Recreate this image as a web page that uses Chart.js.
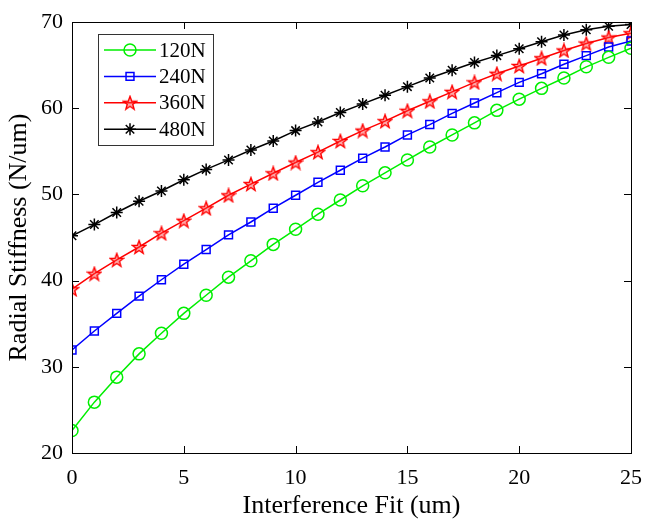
<!DOCTYPE html>
<html>
<head>
<meta charset="utf-8">
<script src="https://cdn.jsdelivr.net/npm/chart.js@4"></script>
<style>
  html, body { margin: 0; padding: 0; background: #fff; }
  #wrap { width: 646px; height: 520px; }
</style>
</head>
<body>
<div id="wrap"><canvas id="chart" width="646" height="520"></canvas></div>
<script>
// interference fit (um)
const fitValues = [0, 1, 2, 3, 4, 5, 6, 7, 8, 9, 10, 11, 12, 13, 14, 15, 16, 17, 18, 19, 20, 21, 22, 23, 24, 25];

// radial stiffness (N/um) per preload
const stiff120 = [22.6, 25.9, 28.8, 31.5, 33.9, 36.2, 38.3, 40.4, 42.3, 44.2, 45.95, 47.7, 49.35, 51.0, 52.5, 54.0, 55.5, 56.9, 58.3, 59.75, 61.05, 62.3, 63.5, 64.8, 65.9, 66.95];
const stiff240 = [31.95, 34.15, 36.2, 38.2, 40.1, 41.9, 43.6, 45.3, 46.8, 48.4, 49.9, 51.4, 52.8, 54.2, 55.5, 56.9, 58.1, 59.4, 60.6, 61.8, 63.0, 64.0, 65.1, 66.1, 67.1, 67.8];
const stiff360 = [39.0, 40.8, 42.4, 43.9, 45.5, 46.95, 48.4, 49.9, 51.2, 52.45, 53.7, 54.9, 56.2, 57.4, 58.5, 59.7, 60.8, 61.9, 63.0, 64.0, 64.9, 65.8, 66.7, 67.5, 68.2, 68.7];
const stiff480 = [45.2, 46.5, 47.9, 49.2, 50.4, 51.7, 52.9, 54.0, 55.15, 56.2, 57.4, 58.4, 59.5, 60.5, 61.5, 62.5, 63.5, 64.4, 65.3, 66.1, 66.9, 67.7, 68.5, 69.1, 69.5, 69.7];

const seriesNames = ['120N', '240N', '360N', '480N'];
const xTicks = [0, 5, 10, 15, 20, 25];
const yTicks = [20, 30, 40, 50, 60, 70];

const FONT = '"Liberation Serif", "Times New Roman", serif';

// open pentagram marker (matlab 'p')
function makePentagram(color) {
    const c = document.createElement('canvas');
    c.width = 16; c.height = 16;
    const g = c.getContext('2d');
    g.beginPath();
    for (let i = 0; i < 10; i++) {
        const r = i % 2 === 0 ? 7 : 2.9;
        const a = -Math.PI / 2 + i * Math.PI / 5;
        const px = 8 + r * Math.cos(a), py = 8.6 + r * Math.sin(a);
        if (i === 0) g.moveTo(px, py); else g.lineTo(px, py);
    }
    g.closePath();
    g.fillStyle = 'rgba(255,60,60,0.45)';
    g.fill();
    g.strokeStyle = color;
    g.lineWidth = 1.4;
    g.stroke();
    return c;
}
const starMarker = makePentagram('#ff0000');

function pts(ys) {
    return fitValues.map((x, i) => ({ x: x, y: ys[i] }));
}

const datasets = [
    { label: seriesNames[0], data: pts(stiff120), borderColor: '#00ee00', pointStyle: 'circle', pointRadius: 6 },
    { label: seriesNames[1], data: pts(stiff240), borderColor: '#0000ff', pointStyle: 'rect', pointRadius: 5.6 },
    { label: seriesNames[2], data: pts(stiff360), borderColor: '#ff0000', pointStyle: starMarker, pointRadius: 7 },
    { label: seriesNames[3], data: pts(stiff480), borderColor: '#000000', pointStyle: 'star', pointRadius: 6 },
].map(d => Object.assign(d, {
    borderWidth: 1.5,
    pointBorderColor: d.borderColor,
    pointBackgroundColor: 'rgba(0,0,0,0)',
    pointBorderWidth: 1.5,
    tension: 0,
    fill: false,
}));

// box + inward ticks on all four sides, like matlab "box on"
const boxPlugin = {
    id: 'boxTicks',
    afterDatasetsDraw(chart) {
        const { ctx, chartArea: a, scales } = chart;
        const len = 7;
        ctx.save();
        ctx.strokeStyle = '#000';
        ctx.lineWidth = 1;
        ctx.beginPath();
        xTicks.forEach(v => {
            const px = Math.round(scales.x.getPixelForValue(v)) + 0.5;
            ctx.moveTo(px, a.bottom); ctx.lineTo(px, a.bottom - len);
            ctx.moveTo(px, a.top); ctx.lineTo(px, a.top + len);
        });
        yTicks.forEach(v => {
            const py = Math.round(scales.y.getPixelForValue(v)) + 0.5;
            ctx.moveTo(a.left, py); ctx.lineTo(a.left + len, py);
            ctx.moveTo(a.right, py); ctx.lineTo(a.right - len, py);
        });
        ctx.stroke();
        ctx.strokeRect(Math.round(a.left) + 0.5, Math.round(a.top) + 0.5,
            Math.round(a.right - a.left), Math.round(a.bottom - a.top));
        ctx.restore();
    }
};

// legend box in the upper left corner
const legendPlugin = {
    id: 'insetLegend',
    afterDraw(chart) {
        const ctx = chart.ctx;
        const bx = 98.5, by = 34.5, bw = 115, bh = 111;
        ctx.save();
        ctx.fillStyle = '#fff';
        ctx.fillRect(bx, by, bw, bh);
        ctx.strokeStyle = '#333';
        ctx.lineWidth = 1;
        ctx.strokeRect(bx, by, bw, bh);
        chart.data.datasets.forEach((ds, i) => {
            const y = 50 + i * 26.4;
            ctx.strokeStyle = ds.borderColor;
            ctx.lineWidth = 1.5;
            ctx.beginPath();
            ctx.moveTo(104, y); ctx.lineTo(156, y);
            ctx.stroke();
            ctx.fillStyle = 'rgba(0,0,0,0)';
            Chart.helpers.drawPoint(ctx, {
                pointStyle: ds.pointStyle,
                radius: ds.pointRadius,
                borderWidth: 1.5,
                rotation: 0,
            }, 130, y);
            ctx.fillStyle = '#000';
            ctx.font = '21px ' + FONT;
            ctx.textBaseline = 'middle';
            ctx.textAlign = 'left';
            ctx.fillText(ds.label, 159, y + 1);
        });
        ctx.restore();
    }
};

new Chart(document.getElementById('chart'), {
    type: 'line',
    data: { datasets: datasets },
    plugins: [boxPlugin, legendPlugin],
    options: {
        responsive: false,
        animation: false,
        layout: { padding: { top: 22, right: 15, left: 0, bottom: 0 } },
        plugins: {
            legend: { display: false },
            tooltip: { enabled: false },
        },
        scales: {
            x: {
                type: 'linear',
                min: 0,
                max: 25,
                afterFit: s => { s.height = 67; s.paddingLeft = 0; s.paddingRight = 0; },
                afterBuildTicks: s => { s.ticks = xTicks.map(v => ({ value: v })); },
                grid: { display: false, drawTicks: false },
                border: { display: false },
                ticks: { color: '#000', padding: 12, font: { family: FONT, size: 22 } },
                title: {
                    display: true,
                    text: 'Interference Fit (um)',
                    color: '#000',
                    font: { family: FONT, size: 26, lineHeight: 1.1 },
                    padding: { top: 0, bottom: 0 },
                },
            },
            y: {
                min: 20,
                max: 70,
                afterFit: s => { s.width = 72; s.paddingTop = 0; s.paddingBottom = 0; },
                afterBuildTicks: s => { s.ticks = yTicks.map(v => ({ value: v })); },
                grid: { display: false, drawTicks: false },
                border: { display: false },
                ticks: { color: '#000', padding: 9, font: { family: FONT, size: 22 } },
                title: {
                    display: true,
                    text: 'Radial Stiffness (N/um)',
                    color: '#000',
                    font: { family: FONT, size: 26, lineHeight: 1.1 },
                    padding: { top: 5, bottom: 0 },
                },
            },
        },
    },
});
</script>
</body>
</html>
